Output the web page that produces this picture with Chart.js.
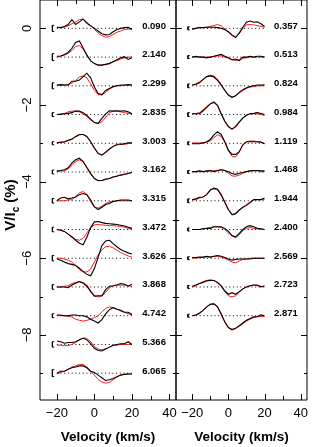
<!DOCTYPE html>
<html>
<head>
<meta charset="utf-8">
<script src="https://cdn.jsdelivr.net/npm/chart.js@4/dist/chart.umd.min.js"></script>
<style>
  html, body { margin: 0; padding: 0; background: #fff; }
  #wrap { position: relative; width: 314px; height: 447px; }
  #wrap canvas { position: absolute; left: 0; top: 0; }
</style>
</head>
<body>
<div id="wrap">
  <canvas id="leftChart" width="314" height="447"></canvas>
  <canvas id="rightChart" width="314" height="447"></canvas>
</div>
<script>
// velocity grid (km/s) shared by every profile
const velocity = [-20, -18, -16, -14, -12, -10, -8, -6, -4, -2, 0, 2, 4, 6, 8, 10, 12, 14, 16, 18, 20];
const offset = 0.75; // vertical shift between profiles (%)

// rotational phases
const phaseLeft = ["0.090", "2.140", "2.299", "2.835", "3.003", "3.162", "3.315", "3.472", "3.626", "3.868", "4.742", "5.366", "6.065"];
const phaseRight = ["0.357", "0.513", "0.824", "0.984", "1.119", "1.468", "1.944", "2.400", "2.569", "2.723", "2.871"];

// error bar half-heights (%)
const errLeft = [0.08, 0.09, 0.08, 0.05, 0.04, 0.05, 0.06, 0.06, 0.07, 0.06, 0.05, 0.07, 0.09];
const errRight = [0.04, 0.04, 0.05, 0.05, 0.04, 0.04, 0.05, 0.04, 0.04, 0.04, 0.04];

// observed Stokes V (black), left column
const obsLeft = [
  [0.03, 0.02, 0.05, 0.10, 0.23, 0.10, 0.17, 0.24, 0.13, 0.07, 0.00, -0.07, -0.14, -0.17, -0.16, -0.09, -0.03, 0.00, 0.02, 0.03, -0.03],
  [0.02, 0.03, 0.07, 0.12, 0.23, 0.38, 0.42, 0.24, 0.05, -0.10, -0.17, -0.21, -0.21, -0.19, -0.17, -0.12, -0.07, -0.02, 0.01, -0.06, -0.02],
  [0.02, 0.03, 0.02, 0.02, 0.12, 0.12, 0.15, 0.24, 0.33, 0.21, -0.03, -0.20, -0.23, -0.12, -0.07, -0.02, 0.00, 0.02, 0.02, 0.03, 0.02],
  [0.00, 0.00, 0.02, 0.03, 0.05, 0.09, 0.09, 0.05, -0.02, -0.12, -0.21, -0.23, -0.10, 0.02, 0.10, 0.09, 0.10, 0.09, 0.10, 0.07, 0.02],
  [0.01, 0.03, 0.04, 0.08, 0.11, 0.18, 0.23, 0.23, 0.18, 0.04, -0.13, -0.27, -0.31, -0.23, -0.15, -0.08, -0.04, -0.03, -0.01, 0.01, 0.01],
  [0.03, 0.04, 0.06, 0.11, 0.23, 0.32, 0.36, 0.27, 0.11, -0.04, -0.17, -0.22, -0.22, -0.18, -0.17, -0.13, -0.11, -0.08, -0.06, -0.04, -0.01],
  [0.00, 0.07, 0.09, 0.05, 0.07, 0.10, 0.16, 0.19, 0.16, 0.02, -0.16, -0.23, -0.17, -0.10, -0.07, -0.02, 0.00, 0.02, 0.02, 0.02, 0.00],
  [0.00, -0.02, -0.05, -0.12, -0.19, -0.28, -0.36, -0.40, -0.20, 0.05, 0.20, 0.21, 0.18, 0.16, 0.15, 0.14, 0.13, 0.11, 0.09, 0.06, 0.03],
  [-0.02, -0.05, -0.10, -0.14, -0.16, -0.19, -0.26, -0.35, -0.42, -0.46, -0.27, 0.03, 0.33, 0.45, 0.47, 0.38, 0.30, 0.23, 0.18, 0.14, 0.11],
  [0.00, 0.00, 0.00, -0.02, 0.05, 0.10, 0.14, 0.10, 0.02, -0.12, -0.24, -0.23, -0.23, -0.07, 0.02, 0.03, 0.05, 0.09, 0.07, 0.02, 0.07],
  [0.02, 0.02, 0.00, 0.00, 0.02, 0.02, 0.00, 0.00, -0.03, -0.09, -0.14, -0.19, -0.10, 0.05, 0.16, 0.21, 0.17, 0.14, 0.09, 0.09, 0.03],
  [0.09, 0.07, 0.03, 0.05, 0.05, 0.07, 0.12, 0.16, 0.12, 0.02, -0.10, -0.16, -0.17, -0.12, -0.07, -0.02, 0.00, 0.02, 0.02, 0.07, 0.00],
  [0.00, 0.05, 0.05, 0.10, 0.14, 0.16, 0.19, 0.19, 0.14, 0.05, 0.02, -0.05, -0.12, -0.19, -0.17, -0.14, -0.09, -0.05, -0.03, -0.02, -0.02]
];

// model Stokes V (red), left column
const modLeft = [
  [0.02, 0.02, 0.03, 0.07, 0.12, 0.17, 0.23, 0.24, 0.16, 0.07, -0.03, -0.12, -0.19, -0.23, -0.21, -0.16, -0.10, -0.07, -0.03, -0.02, -0.02],
  [0.00, 0.02, 0.05, 0.10, 0.17, 0.28, 0.30, 0.21, 0.05, -0.09, -0.17, -0.21, -0.21, -0.19, -0.16, -0.12, -0.09, -0.05, -0.02, 0.00, 0.00],
  [0.02, 0.02, 0.02, 0.03, 0.07, 0.14, 0.23, 0.26, 0.21, 0.05, -0.12, -0.23, -0.24, -0.17, -0.09, -0.03, 0.00, 0.00, 0.02, 0.02, 0.02],
  [0.00, 0.02, 0.03, 0.07, 0.09, 0.09, 0.07, 0.02, -0.05, -0.14, -0.21, -0.23, -0.19, -0.07, 0.05, 0.09, 0.09, 0.07, 0.05, 0.03, 0.02],
  [0.01, 0.02, 0.03, 0.07, 0.10, 0.17, 0.22, 0.23, 0.17, 0.04, -0.11, -0.26, -0.30, -0.25, -0.15, -0.08, -0.03, -0.01, -0.03, -0.01, 0.01],
  [0.01, 0.03, 0.03, 0.08, 0.17, 0.27, 0.32, 0.27, 0.13, -0.04, -0.17, -0.23, -0.22, -0.20, -0.17, -0.13, -0.10, -0.08, -0.06, -0.04, -0.01],
  [0.00, 0.00, 0.00, 0.02, 0.03, 0.10, 0.21, 0.24, 0.16, -0.03, -0.17, -0.19, -0.14, -0.07, -0.03, -0.02, 0.00, 0.00, 0.00, 0.00, 0.00],
  [0.00, -0.02, -0.05, -0.12, -0.21, -0.26, -0.28, -0.23, -0.09, 0.05, 0.12, 0.13, 0.12, 0.11, 0.10, 0.10, 0.09, 0.08, 0.06, 0.03, 0.01],
  [0.00, 0.00, -0.02, -0.05, -0.10, -0.19, -0.30, -0.35, -0.36, -0.28, -0.10, 0.09, 0.22, 0.30, 0.31, 0.27, 0.21, 0.15, 0.10, 0.06, 0.03],
  [0.00, 0.00, 0.02, 0.03, 0.09, 0.12, 0.14, 0.12, 0.05, -0.10, -0.23, -0.26, -0.24, -0.14, -0.02, 0.03, 0.05, 0.05, 0.05, 0.03, 0.02],
  [0.00, 0.00, 0.00, -0.02, -0.03, -0.09, -0.12, -0.14, -0.12, -0.09, -0.05, 0.00, 0.10, 0.19, 0.23, 0.21, 0.17, 0.12, 0.09, 0.05, 0.03],
  [-0.02, -0.02, -0.03, -0.03, 0.00, 0.05, 0.12, 0.17, 0.16, 0.07, -0.05, -0.12, -0.14, -0.12, -0.07, -0.03, -0.02, 0.00, 0.00, 0.00, 0.00],
  [-0.02, 0.02, 0.05, 0.10, 0.16, 0.19, 0.23, 0.23, 0.16, 0.05, -0.05, -0.16, -0.23, -0.26, -0.24, -0.17, -0.10, -0.05, -0.03, -0.02, -0.02]
];

// observed Stokes V (black), right column
const obsRight = [
  [-0.02, 0.00, 0.02, 0.02, 0.03, 0.03, 0.03, 0.02, 0.00, -0.03, -0.09, -0.17, -0.24, -0.12, 0.03, 0.16, 0.19, 0.16, 0.17, 0.12, 0.05],
  [0.00, 0.02, 0.00, 0.00, -0.02, 0.00, 0.02, 0.05, 0.07, 0.02, -0.02, -0.07, -0.05, -0.09, 0.00, 0.00, 0.02, 0.00, 0.02, 0.02, 0.00],
  [0.02, 0.05, 0.09, 0.17, 0.24, 0.26, 0.23, 0.14, 0.02, -0.12, -0.24, -0.30, -0.26, -0.17, -0.10, -0.05, -0.02, 0.00, 0.02, 0.02, 0.03],
  [0.02, 0.02, 0.02, 0.10, 0.19, 0.28, 0.33, 0.24, 0.02, -0.17, -0.31, -0.38, -0.31, -0.19, -0.09, -0.02, 0.02, 0.03, 0.05, 0.03, 0.00],
  [-0.01, -0.01, -0.01, 0.01, 0.04, 0.10, 0.22, 0.30, 0.23, 0.04, -0.18, -0.29, -0.29, -0.22, -0.04, 0.04, 0.04, 0.04, 0.04, 0.03, -0.01],
  [0.01, 0.01, 0.03, 0.01, 0.03, 0.04, 0.01, 0.04, 0.06, 0.04, 0.01, -0.04, -0.06, -0.03, -0.01, 0.01, 0.03, 0.04, 0.04, 0.03, 0.03],
  [0.03, 0.05, 0.09, 0.10, 0.16, 0.28, 0.33, 0.30, 0.16, -0.03, -0.23, -0.36, -0.33, -0.24, -0.17, -0.12, -0.05, 0.03, 0.03, 0.03, 0.07],
  [0.00, 0.00, 0.00, 0.02, 0.03, 0.03, 0.07, 0.07, 0.07, 0.03, -0.05, -0.16, -0.19, -0.10, 0.00, 0.07, 0.10, 0.07, 0.03, 0.02, 0.00],
  [0.02, 0.02, 0.03, 0.03, 0.05, 0.03, 0.05, 0.07, 0.05, 0.02, -0.02, -0.05, -0.03, -0.02, -0.02, -0.02, -0.02, 0.00, 0.00, 0.00, 0.00],
  [0.02, 0.05, 0.09, 0.12, 0.16, 0.17, 0.17, 0.12, 0.03, -0.10, -0.19, -0.15, -0.19, -0.12, -0.05, 0.00, 0.03, 0.05, 0.05, 0.00, 0.03],
  [0.00, 0.02, 0.07, 0.14, 0.23, 0.30, 0.31, 0.23, 0.05, -0.16, -0.31, -0.37, -0.33, -0.26, -0.19, -0.12, -0.07, -0.03, -0.02, 0.02, 0.00]
];

// model Stokes V (red), right column
const modRight = [
  [-0.02, 0.00, 0.02, 0.02, 0.03, 0.05, 0.07, 0.10, 0.07, -0.02, -0.10, -0.19, -0.23, -0.14, 0.00, 0.09, 0.10, 0.09, 0.07, 0.05, 0.03],
  [0.00, 0.00, 0.00, 0.00, 0.00, 0.00, 0.02, 0.03, 0.03, 0.00, -0.03, -0.07, -0.09, -0.07, -0.03, -0.02, 0.00, 0.00, 0.00, 0.00, 0.00],
  [0.02, 0.03, 0.07, 0.16, 0.24, 0.28, 0.26, 0.17, 0.03, -0.12, -0.24, -0.30, -0.26, -0.19, -0.12, -0.07, -0.03, -0.02, 0.00, 0.00, 0.00],
  [0.02, 0.03, 0.05, 0.12, 0.21, 0.28, 0.31, 0.23, 0.02, -0.19, -0.33, -0.38, -0.33, -0.21, -0.09, -0.02, 0.02, 0.02, 0.02, 0.00, -0.02],
  [0.01, 0.01, 0.01, 0.01, 0.03, 0.06, 0.15, 0.22, 0.18, 0.03, -0.20, -0.34, -0.36, -0.23, -0.04, 0.04, 0.06, 0.06, 0.04, 0.03, -0.01],
  [0.01, 0.01, 0.01, 0.01, 0.01, 0.03, 0.03, 0.04, 0.06, 0.04, -0.03, -0.10, -0.11, -0.08, -0.03, 0.01, 0.03, 0.03, 0.03, 0.01, 0.01],
  [0.02, 0.03, 0.07, 0.10, 0.17, 0.28, 0.31, 0.28, 0.14, -0.05, -0.24, -0.37, -0.35, -0.26, -0.17, -0.10, -0.03, 0.02, 0.03, 0.03, 0.03],
  [0.00, 0.00, 0.00, 0.02, 0.03, 0.05, 0.07, 0.07, 0.05, 0.00, -0.09, -0.17, -0.21, -0.14, -0.03, 0.03, 0.05, 0.03, 0.02, 0.00, 0.00],
  [0.00, 0.00, 0.02, 0.02, 0.03, 0.03, 0.05, 0.05, 0.03, 0.00, -0.05, -0.10, -0.12, -0.07, -0.03, -0.02, 0.00, 0.00, 0.00, 0.00, 0.00],
  [0.00, 0.03, 0.09, 0.14, 0.17, 0.19, 0.17, 0.10, 0.02, -0.12, -0.23, -0.26, -0.23, -0.14, -0.05, 0.00, 0.03, 0.05, 0.03, 0.02, 0.00],
  [0.00, 0.02, 0.05, 0.14, 0.23, 0.30, 0.31, 0.23, 0.03, -0.17, -0.31, -0.35, -0.33, -0.28, -0.21, -0.14, -0.09, -0.05, -0.03, -0.02, -0.02]
];

// axis ticks
const xTicks = [-20, -10, 0, 10, 20, 30, 40];
const yTicks = [0, -1, -2, -3, -4, -5, -6, -7, -8, -9];
const yLabels = [0, -2, -4, -6, -8];

const FONT = '"Liberation Sans", Arial, sans-serif';
const errX = -22.4;   // where the error bars sit
const labelX = 31.8;  // where the phase labels sit

function toPoints(row, base) {
  return row.map((v, j) => ({ x: velocity[j], y: base + v }));
}

function buildDatasets(obs, mod, err) {
  const sets = [];
  obs.forEach((row, i) => {
    const base = -i * offset;
    sets.push({ data: toPoints(row, base), borderColor: '#000', borderWidth: 1.1, order: 0 });
    sets.push({ data: toPoints(mod[i], base), borderColor: '#ff1a1a', borderWidth: 1, order: 1 });
    sets.push({
      data: [{ x: velocity[0], y: base }, { x: velocity[velocity.length - 1], y: base }],
      borderColor: '#000', borderWidth: 1, borderDash: [1, 2.7], order: 2
    });
    const e = err[i];
    sets.push({
      data: [{ x: errX + 1, y: base + e }, { x: errX, y: base + e }, { x: errX, y: base - e }, { x: errX + 1, y: base - e }],
      borderColor: '#000', borderWidth: 1, order: 2
    });
  });
  return sets;
}

function line(ctx, x1, y1, x2, y2) {
  ctx.beginPath();
  ctx.moveTo(x1, y1);
  ctx.lineTo(x2, y2);
  ctx.stroke();
}

// frame, inward ticks, phase labels, rotated y labels
const framePlugin = {
  id: 'frame',
  afterDraw(chart, args, opts) {
    const ctx = chart.ctx, a = chart.chartArea;
    const xs = chart.scales.x, ys = chart.scales.y;
    ctx.save();
    ctx.strokeStyle = '#000';
    ctx.lineWidth = 1;
    line(ctx, a.left, a.top, a.left, a.bottom);
    line(ctx, a.right, a.top, a.right, a.bottom);
    line(ctx, a.left, a.bottom, a.right, a.bottom);
    line(ctx, a.left, a.top, a.right, a.top);
    xTicks.forEach(v => {
      const px = Math.round(xs.getPixelForValue(v)) + 0.5;
      const len = v % 20 === 0 ? 6 : 4;
      line(ctx, px, a.bottom, px, a.bottom - len);
      line(ctx, px, a.top, px, a.top + len);
    });
    yTicks.forEach(v => {
      const py = Math.round(ys.getPixelForValue(v)) + 0.5;
      const len = v % 2 === 0 ? 6 : 3;
      line(ctx, a.left, py, a.left + len, py);
      line(ctx, a.right, py, a.right - len, py);
    });
    // phase labels
    ctx.fillStyle = '#000';
    ctx.font = 'bold 9.5px ' + FONT;
    ctx.textAlign = 'center';
    ctx.textBaseline = 'middle';
    opts.phases.forEach((p, i) => {
      ctx.fillText(p, xs.getPixelForValue(labelX), ys.getPixelForValue(-i * offset + 0.06));
    });
    if (opts.yAxis) {
      ctx.font = '13px ' + FONT;
      yLabels.forEach(v => {
        ctx.save();
        ctx.translate(27.5, ys.getPixelForValue(v));
        ctx.rotate(-Math.PI / 2);
        ctx.fillText(String(v).replace('-', '\u2212'), 0, 0);
        ctx.restore();
      });
      // y title: V/I_c (%)
      ctx.save();
      ctx.translate(11, 205);
      ctx.rotate(-Math.PI / 2);
      ctx.textAlign = 'left';
      const big = 'bold 15px ' + FONT, small = 'bold 10px ' + FONT;
      ctx.font = big; const w1 = ctx.measureText('V/I').width;
      ctx.font = small; const w2 = ctx.measureText('c').width;
      ctx.font = big; const w3 = ctx.measureText(' (%)').width;
      let x0 = -(w1 + w2 + w3) / 2;
      ctx.fillText('V/I', x0, 0);
      ctx.font = small; ctx.fillText('c', x0 + w1, 5);
      ctx.font = big; ctx.fillText(' (%)', x0 + w1 + w2, 0);
      ctx.restore();
    }
    ctx.restore();
  }
};

function makeOptions(isLeft, phases) {
  return {
    responsive: false,
    animation: false,
    devicePixelRatio: 1,
    layout: { padding: isLeft ? { left: 0, right: 138, top: 0, bottom: 0 } : { left: 176, right: 2, top: 0, bottom: 0 } },
    elements: { point: { radius: 0 }, line: { tension: 0 } },
    plugins: {
      legend: { display: false },
      tooltip: { enabled: false },
      frame: { phases: phases, yAxis: isLeft }
    },
    scales: {
      x: {
        type: 'linear', min: -29, max: 43.5,
        afterFit(s) { s.height = 47; },
        grid: { display: false, drawTicks: false },
        border: { display: false },
        ticks: {
          stepSize: 20, includeBounds: false, maxRotation: 0, padding: 6,
          color: '#000', font: { family: FONT, size: 13 },
          callback: v => String(v).replace('-', '\u2212')
        },
        title: {
          display: true, text: 'Velocity (km/s)', color: '#000',
          font: { family: FONT, size: 13.5, weight: 'bold' }, padding: { top: 0, bottom: 2 }
        }
      },
      y: {
        type: 'linear', min: -9.7, max: 0.74, display: isLeft,
        afterFit(s) { s.width = isLeft ? 40 : 0; },
        grid: { display: false },
        border: { display: false },
        ticks: { display: false }
      }
    }
  };
}

new Chart(document.getElementById('leftChart'), {
  type: 'line',
  data: { datasets: buildDatasets(obsLeft, modLeft, errLeft) },
  options: makeOptions(true, phaseLeft),
  plugins: [framePlugin]
});

new Chart(document.getElementById('rightChart'), {
  type: 'line',
  data: { datasets: buildDatasets(obsRight, modRight, errRight) },
  options: makeOptions(false, phaseRight),
  plugins: [framePlugin]
});
</script>
</body>
</html>
